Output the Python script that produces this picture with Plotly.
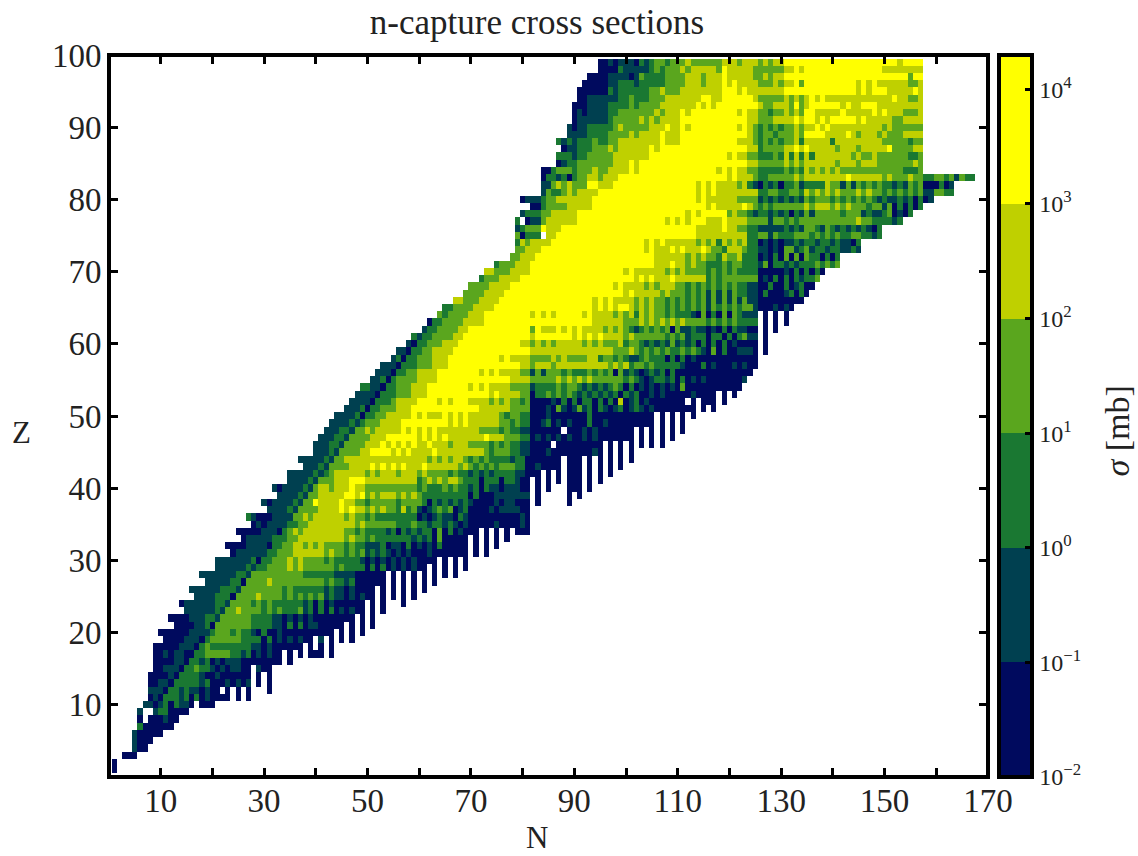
import re
import numpy as np
import plotly.graph_objects as go

TITLE = "n-capture cross sections"
X_TICKS = list(range(10, 171, 10))
X_LABELS = [str(v) if (v - 10) % 20 == 0 else "" for v in X_TICKS]
Y_TICKS = list(range(10, 101, 10))
CB_TICKS = [-2, -1, 0, 1, 2, 3, 4]
CB_LABELS = ["10<sup>−2</sup>", "10<sup>−1</sup>", "10<sup>0</sup>", "10<sup>1</sup>", "10<sup>2</sup>", "10<sup>3</sup>", "10<sup>4</sup>"]
# cross section (mb) standing for each band
BAND_SIGMA = [0.03, 0.3, 3.0, 30.0, 300.0, 4000.0]
BAND_COLORS = ["#000a5e", "#004050", "#1a7832", "#5aa61e", "#bfd000", "#ffff00"]
BAND_EDGES = [-2, -1, 0, 1, 2, 3, 4.3]

# Z -> "startN:bands ..." (band index per neutron number, d{n} = n repeats)
ROWS = {
99: "95:0010 99:1110 103:212 106:332 109:3334 113:333333 119:4443 123:44434344 131:5{22} 153:4 154:5555",
98: "95:00002 100:11111 105:232 108:33343 113:44444 118:35 120:44444 125:333333 131:445 134:4 135:5{15} 150:4{6} 156:44",
97: "93:0000 97:1111 101:01 103:3 104:2222 108:3333 112:4443 116:4445 120:44444 125:3 126:3 127:4 128:3 129:44 131:5{24} 155:355",
96: "92:00000 97:11 99:222 102:1 103:22222 108:3333 112:4443 116:4445 120:45 122:4444 126:333 129:43 131:44 133:53 135:5{10} 145:4545 149:4{6} 155:334",
95: "91:000000 97:21 99:2222 103:22 105:33 107:4 108:333 111:4{8} 119:555 122:4 123:5 124:444 127:4444 131:5{14} 145:4545 149:55 151:44444 156:54",
94: "91:00 93:111111 99:22 101:3 102:222 105:333 108:4{7} 115:55 117:44 119:5{6} 125:4 126:33333 131:4343 135:4545 139:4{13} 152:544 155:334",
93: "90:000 93:1111 97:2222 101:3 102:2 103:3333 107:4{7} 114:5 115:4 116:5 117:4 118:5{8} 126:4 127:33 129:44 131:43 133:53 135:4 136:5{6} 142:45 144:44 146:555 149:4{9}",
92: "90:010 93:1111 97:22 99:3{7} 106:4 107:3 108:444 111:54 113:5{9} 122:45 124:44 126:33 128:2 129:33 131:4343 135:55 137:4{5} 142:5 143:4{5} 148:5 149:4 150:5 151:4{3} 154:333 157:4",
91: "90:0 91:1{6} 97:2 98:33333 103:4 104:3 105:4 106:3 107:4444 111:5{13} 124:44 126:333 129:4{4} 133:54 135:55 137:4 138:5 139:4 140:5{5} 145:4 146:5 147:4{5} 152:33 154:4{4}",
90: "89:10 91:11 93:2{5} 98:3 99:4 100:3{5} 105:444 108:5 109:44 111:54 113:5{9} 122:4 123:5 124:4 125:3 126:2 127:3 128:2 129:3 130:2 131:33 133:4 134:3 135:44 137:5 138:4 139:5 140:4{10} 150:3 151:4 152:3{6}",
89: "89:1111 93:2222 97:3333 101:4 102:3 103:4444 107:5 108:444 111:5{13} 124:4 125:3 126:2 127:3 128:3 129:2 130:3 131:33 133:4 134:3 135:5{4} 139:4 140:4{3} 143:5 144:4 145:3 146:4{3} 149:3 150:4 151:3{3} 154:4{4}",
88: "87:2121 91:222 94:3 95:22 97:33 99:4{8} 107:5 108:4 109:444 111:5{11} 122:444 125:3 126:2 127:3 128:2 129:3 130:2 131:33 133:4 134:2 135:44444 140:2 141:4{9} 150:3{5} 155:2 156:33",
87: "88:0 89:1 90:1 91:222 94:333 97:4 98:3 99:4{6} 105:5 106:4 107:5{17} 124:44 126:2 127:33 129:33 131:44 133:5 134:4 135:5 136:4{5} 141:3 142:4{3} 145:3 146:4{5} 151:5 152:3{4} 156:44",
86: "87:222 90:1 91:22 93:3{5} 98:4{7} 105:5{15} 120:4 121:5 122:44 124:33 126:222 129:3 130:2 131:4 132:2 133:4 134:2 135:4 136:2 137:4{7} 144:3 145:4 146:33 148:4 149:3{6} 155:22 157:3",
85: "87:01 89:22 91:3{7} 98:444 101:5 102:4 103:5{21} 124:44 126:3{5} 131:4 132:3 133:4 134:3 135:4{6} 141:3 142:4{3} 145:3 146:4{3} 149:3{7} 156:4 157:3",
84: "84:00 86:2 87:3{3} 90:2 91:333 94:4 95:33 97:4{4} 101:5 102:4 103:5{15} 118:4 119:5 120:4 121:5 122:44 124:33 126:2{5} 131:3 132:2 133:3 134:2 135:4 136:3 137:4 138:3 139:4 140:3 141:4 142:3{12} 154:222 157:3",
83: "84:0 85:22 87:1 88:2 89:0 90:2 91:33 93:44 95:3 96:444 99:5{21} 120:4 121:5 122:444 125:3 126:22 128:3{5} 133:4 134:3 135:4{8} 143:5 144:4{6} 150:3 151:4 152:3{3} 155:4 156:33 158:22 160:33 162:2 163:3 164:1 165:3 166:22",
82: "84:11 86:3 87:4 88:3 89:4 90:3{3} 93:55 95:4{3} 98:5{16} 114:4 115:5 116:4 117:5 118:4{4} 122:3 123:4 124:2 125:1 126:0 127:2 128:1 129:2 130:0 131:22 133:3 134:1 135:2{4} 139:4 140:33 142:1 143:3 144:1 145:3 146:2 147:3 148:2 149:3 150:22 152:1 153:2 154:1 155:3 156:2 157:3 158:000 161:2 162:0 163:1",
81: "84:13 86:222 88:3 89:4 90:3 91:4{4} 95:5{19} 114:4 115:5 116:4 117:5 118:4{8} 126:22 128:33 130:22 132:33 134:2 135:4 136:3 137:4 138:3 139:4 140:3 141:4 142:333 145:4 146:3 147:4 148:333 150:2 151:3 152:2 153:3 154:2 155:3 156:2 157:3 158:11 160:33 162:22",
80: "80:0 81:111 84:2 85:33 87:4{7} 94:5{20} 114:4 115:5 116:4{6} 122:3{4} 126:1 127:2 128:1 129:2 130:1 131:2 132:1 133:2 134:1 135:3 136:2 137:333 140:2 141:3 142:2 143:3 144:2 145:3 146:2 147:3 148:2 149:1 150:2 151:11 153:2 154:1 155:2 156:0 157:2 158:0 159:1",
79: "82:00 84:2 85:3333 89:4{5} 94:5{22} 116:4 117:5 118:4{5} 123:5 124:4 125:3 126:2 127:3 128:2 129:3{6} 135:4 136:3 137:4{3} 140:3 141:4 142:3 143:4 144:3{3} 147:2 148:3{2} 150:1 151:3 152:0 153:2 154:0 155:2 156:0 157:2",
78: "80:1 81:222 84:33 86:4{5} 91:5{21} 112:4 113:5 114:4 115:5{5} 120:3 121:4 122:33 124:2 125:1 126:22 128:1 129:2 130:1 131:2 132:0 133:2 134:1 135:3 136:1 137:3{5} 142:2 143:3{3} 146:1 147:2 148:11 150:2 151:3 152:0 153:1 154:0 155:2",
77: "79:2 81:0 82:11 84:3 85:4{6} 91:5{17} 108:4 109:5 110:4 111:5 112:4 113:5{3} 116:4{3} 119:5 120:4{4} 124:33 126:33 128:1 129:33 131:2 132:3 133:2 134:3{11} 145:4 146:33 148:22 150:22 152:1 153:2",
76: "79:1 80:2 81:333 84:5 85:444 88:5{26} 114:4{5} 119:5 120:44 122:33 124:22 126:1{5} 131:2 132:1 133:2 134:1 135:33 137:2 138:1 139:3 140:2 141:1 142:2 143:1 144:2 145:1 146:2 147:1 148:0 149:2",
75: "79:3 80:0 81:222 85:44 87:5{27} 114:4{10} 124:22 126:33 128:1 129:3 130:222 133:333 136:2 137:3 138:2 139:3 140:2 141:3 142:22 144:33 146:22 148:1 149:2",
74: "79:2 80:4 81:3 82:4{4} 86:5{18} 104:4 105:5 106:4 107:5 108:4{6} 114:3 115:4 116:3 117:4 118:2 119:4 120:3 121:4 122:3 123:4 124:22 126:0 127:1 128:0 129:1 130:0 131:11 133:2 134:1 135:22 137:1 138:22 140:1 141:2 142:11 144:0 145:2",
73: "79:33 81:444 84:5{20} 104:4 105:5 106:444 109:5 110:4 111:5 112:444 115:5 116:4 117:33 119:2 120:444 123:3 124:22 126:11 128:0 129:1 130:0 131:33 133:1 134:2 135:3 136:1 137:22 139:1 140:22 142:11 144:2 145:1",
72: "78:33 80:444 83:5{23} 106:4{6} 112:3 113:4 114:3 115:4 116:33 118:2 119:4 120:33 122:4 123:222 126:0 127:1 128:0 129:2 130:0 131:3 132:0 133:3 134:0 135:3 136:22 138:0 139:2 140:0 141:2",
71: "75:2 76:333 79:444 82:5{24} 106:444 109:5 110:44 112:3 113:4 114:33 116:22 118:2 119:3 120:2 121:33 123:222 126:1 127:3 128:0 129:22 131:1 132:2 133:1 134:222 137:3 138:2 139:3 140:2 141:3",
70: "73:44 75:333 78:4444 82:5{18} 100:4 101:5 102:4{6} 108:3 109:4 110:3 111:4 112:33 114:33 116:2 117:3 118:2 119:3 120:2 121:3 122:2222 126:0{5} 131:1 132:0 133:2 134:0 135:2 136:0 137:2 138:0",
69: "72:2 73:333 76:4444 80:5{22} 102:4 103:5 104:4 105:5 106:444 109:5 110:4{6} 116:2 117:3 118:2 119:3 120:33 122:3333 126:0 127:1 128:0 129:2 130:0 131:2 132:0 133:2 134:1 135:22 137:3",
68: "70:3333 74:4444 78:5{20} 98:4 99:5 100:4{4} 104:3 105:4 106:3 107:444 110:33 112:2 113:3 114:2 115:3 116:2 117:3 118:2 119:3 120:2 121:3 122:22 124:11 126:00 128:2 129:00 131:2 132:0 133:1 134:2 135:00",
67: "69:3333 73:4444 77:5{23} 100:4 101:5 102:4{5} 107:3 108:4 109:3 110:33 112:2 113:3 114:2 115:3 116:1 117:3 118:1 119:3 120:1 121:3 122:22 124:11 126:0 127:2 128:000 131:1 132:2 133:0 134:2 135:0",
66: "67:44 69:333 72:4444 76:5{18} 94:4 95:5 96:4 97:5 98:4{4} 102:3 103:4 104:3 105:4 106:33 108:2 109:3 110:2 111:3 112:2 113:3 114:2 115:3 116:1 117:3 118:1 119:3 120:1 121:3 122:1 123:3 124:11 126:0{9}",
65: "65:22 67:3333 71:4444 75:5{19} 94:4 95:5 96:4 97:5 98:4 99:55 101:4 102:3 103:4 104:3 105:4 106:33 108:2 109:3 110:2 111:3 112:2 113:3 114:2 115:3 116:1 117:3 118:2 119:3 120:2 121:3 122:2 123:33 125:1 126:000 129:1 130:0 131:1 132:0",
64: "64:3 65:2 66:3333 70:444 73:5{9} 82:4 83:5 84:4 85:5 86:4 87:5{5} 92:4 93:5 94:4444 98:3 99:4 100:3 101:4 102:2 103:4 104:3 105:4 106:33 108:2 109:3 110:222 113:1 114:0 115:3 116:0 117:2 118:0 119:3 120:0 121:3 122:2 123:111 127:0 129:0 131:0",
63: "62:0 63:22 65:3333 69:4444 73:5{21} 94:4444 98:44 100:333 103:4 104:3 105:4 106:3 107:4 108:3 109:4 110:3 111:4 112:3333 116:2 117:3 118:2 119:3 120:2 121:3 122:2222 127:0 129:0 131:0",
62: "61:1 62:22 64:3333 68:44 70:5{12} 82:3 83:5 84:444 87:5 88:4 89:5 90:4 91:5 92:4444 96:3 97:4 98:3 99:4 100:3 101:2 102:1 103:2 104:3 105:2 106:3 107:2 108:3 109:0 110:3 111:11 113:2 114:11 116:0 117:1 118:0 119:2 120:0 121:2 122:11 124:00 127:0 129:0",
61: "59:2 60:1 61:22 63:3333 67:44 69:5{13} 82:4 83:5{7} 90:4 91:5 92:4 93:5 94:4 95:5 96:4{4} 100:3 101:4 102:3{6} 108:2 109:3 110:2 111:3 112:1 113:222 116:0 117:22 119:0 120:2 121:0 122:2 123:3 124:11 127:0",
60: "58:10 60:22 62:333 65:444 68:5{12} 80:44 82:3 83:4 84:3 85:4 86:3 87:4{5} 92:3 93:4 94:3 95:4 96:333 99:4 100:2 101:33 103:2 104:1 105:2 106:1 107:2 108:1 109:3 110:1 111:2 112:1 113:2 114:0 115:2 116:0 117:2 118:0 119:2 120:0 121:1 122:0000 127:0",
59: "56:110 59:22 61:33 63:4444 67:5{15} 82:4{16} 98:333 101:4 102:3 103:2 104:3 105:2 106:3 107:2 108:3 109:22 111:3 112:2 113:3 114:2 115:1 116:0 117:3 118:0 119:2 120:00 122:111 125:0 127:0",
58: "55:1 56:2 57:0 58:22 60:333 63:444 66:5{10} 76:4 77:5 78:4444 82:3333 86:4 87:3 88:4 89:3 90:333 93:44 95:2 96:33 98:2 99:3 100:2 101:11 103:2 104:3 105:222 108:0 109:2 110:0 111:2 112:0 113:1 114:0{12}",
57: "53:111 56:0 57:222 60:333 63:444 66:5{14} 80:44 82:3 83:444 86:3 87:4{10} 97:3 98:4 99:3 100:4 101:2 102:33 104:2 105:3 106:2{5} 111:1 112:000 115:2 116:0 117:1 118:000 121:1 122:0 123:1 124:00",
56: "52:111 55:0 56:22 58:33 60:4444 64:5{8} 72:4 73:5 74:4 75:5 76:4{4} 80:33 82:1 83:3 84:1 85:333 88:2 89:3 90:222 93:3 94:2 95:3 96:2 97:3 98:0 99:3 100:1 101:2 102:1 103:0 104:1 105:2 106:1 107:2 108:0 109:2 110:0{15}",
55: "51:11 53:2 54:0 55:2 56:3{4} 60:4{4} 64:5{14} 78:4444 82:3{5} 87:4 88:3 89:4 90:3 91:4 92:3 93:4 94:3{6} 100:2 101:3 102:2 103:1 104:0 105:1 106:22 108:1 109:2 110:0 111:2 112:0 113:1 114:0 115:1 116:0{7} 123:1",
54: "49:22 51:11 53:0 54:22 56:333 59:444 62:5{8} 70:4 71:5 72:4 73:5 74:4{4} 78:3333 82:1 83:2{4} 87:3 88:2 89:33 91:2 92:1 93:2 94:1 95:2 96:1 97:2 98:3 99:2 100:0 101:2 102:0 103:1 104:0 105:1 106:0 107:1 108:0 109:1 110:0 111:3 112:0{11}",
53: "48:1111 52:0 53:222 56:333 59:444 62:5{12} 74:4 75:5 76:4{4} 80:33 82:0 83:22 85:3 86:2 87:3 88:2 89:3 90:2 91:1 92:2 93:1 94:2 95:1 96:2 97:1 98:2 99:0 100:2 101:1 102:2 103:00 105:1 106:0 107:1 108:0{5} 113:1 114:0{4} 119:0 121:0",
52: "47:1111 51:0 52:222 55:3 56:4444 60:5555 64:4 65:5 66:4 67:5 68:55 70:4{4} 74:3 75:4 76:3 77:4 78:33 80:2 81:3 82:0{4} 86:1 87:0 88:2 89:0 90:2 91:0 92:22 94:0 95:2 96:0 97:2 98:0 99:4 100:0 101:1 102:2 103:0 104:1 105:0{7} 113:0 115:000 119:0",
51: "46:111 49:2 50:0 51:22 53:333 56:444 59:5{13} 72:4{6} 78:3333 82:000 85:1 86:0 87:3 88:1 89:0 90:1 91:3 92:1 93:2 94:0 95:2 96:1 97:0 98:1 99:2 100:0 101:1 102:2 103:1 104:0 105:1 106:0{8} 115:0 117:0",
50: "44:1111 48:2 49:0 50:22 52:33 54:4{5} 59:5 60:4 61:5 62:444 65:5 66:4 67:5 68:4 69:5 70:4{6} 76:3 77:2 78:33 80:22 82:000 85:1 86:0{7} 93:2 94:0{12} 107:0 109:0 111:0 113:0",
49: "43:1111 47:2 48:1 49:2 50:333 53:4444 57:5{8} 65:5 66:4 67:5 68:4 69:5 70:4{6} 76:33 78:2 79:3 80:22 82:00 84:1 85:2 86:0 87:1 88:0 89:1 90:000 93:2 94:00 96:1 97:0{9} 107:0 109:0 111:0",
48: "42:111 45:22 47:1 48:33 50:4 51:3 52:4{5} 57:5 58:4 59:5 60:4 61:5 62:4 63:5 64:4{8} 72:3{4} 76:2 77:3 78:22 80:11 82:0{6} 89:000 92:1 93:0 94:1 95:0 96:0{6} 103:0 105:0 107:0 109:0 111:0",
47: "41:111 44:22 46:1 47:3333 51:444 54:5{6} 60:4 61:5 62:4 63:5 64:4 65:5 66:4{7} 73:5 74:444 77:333 80:22 82:0 83:1 84:0 85:1 86:0 87:1 88:0 89:1 90:00 92:1 93:0 94:1 95:0{7} 103:0 105:0 107:0 109:0",
46: "40:111 43:22 45:1 46:3333 50:444 53:5 54:4 55:5 56:4 57:5 58:4 59:5 60:44 62:5 63:444 66:3 67:444 70:3333 74:2 75:3 76:2 77:3 78:22 80:11 82:0000 87:0{9} 97:0 99:0 101:0 103:0 105:0 107:0",
45: "40:111 43:2 44:1 45:3333 49:44 51:5555 55:4 56:5 57:4 58:5 59:4444 63:5 64:4{9} 73:3 74:2 75:333 78:22 80:11 82:000 85:1 86:0{8} 94:1 95:0 97:0 99:0 101:0",
44: "37:1{5} 42:2 43:1 44:33 46:4{16} 62:3 63:4 64:3 65:4 66:3 67:44 69:3 70:2 71:3 72:2 73:3 74:2{4} 78:1 79:22 81:0{7} 89:000 93:0 95:0 97:0 99:0 101:0",
43: "38:111 41:2 42:1 43:3333 47:4444 51:5 52:4 53:5 54:4 55:5 56:4 57:5 58:444 61:5 62:4{6} 68:3 69:4 70:3 71:2 72:3 73:2 74:3 75:2 76:333 79:22 81:00 83:1 84:0 85:00 87:0 89:000 93:0 95:0 97:0 99:0",
42: "35:1{5} 40:2 41:1 42:2 43:3 44:4{6} 50:3 51:4 52:3 53:4{3} 56:3 57:4{3} 60:3 61:4 62:3{4} 66:2 67:3 68:22 70:1 71:2 72:1 73:2 74:1 75:2{4} 79:11 81:0{3} 85:0 87:0 89:000 93:0 95:0 97:0",
41: "35:1{4} 39:2 40:1 41:333 44:444 47:555 50:4{10} 60:2 61:3 62:4 63:3 64:4 65:3 66:44 68:3 69:222 72:0 73:222 76:0 77:22 79:1 80:00 83:0 85:0 87:0 89:000 93:0 95:0",
40: "32:1 33:0 34:1111 38:2 39:1 40:3 41:44 43:3 44:444 47:5 48:44 50:3{10} 60:2 61:3 62:222 65:3 66:2 67:3 68:222 70:1 71:2 72:0 73:2 74:11 76:0 77:111 80:00 83:0 85:0 89:000 93:0",
39: "33:1111 37:2 38:1 39:33 41:4{5} 46:55 48:4 49:5 50:3 51:4 52:3 53:444 56:3 57:4 58:3 59:4 60:3 61:2{9} 70:0 71:2 72:000 75:1{7} 83:0 89:0 91:0",
38: "30:1 31:0 32:1111 36:2 37:1 38:33 40:5 41:4444 45:5 46:44 48:33 50:2 51:3{5} 56:2 57:3{4} 61:2 62:0 63:2 64:1 65:2 66:1 67:2 68:1 69:2 70:1 71:0{4} 75:1 76:0 77:11 79:000 83:0 89:0",
37: "31:1111 35:2 36:1 37:3333 41:4444 45:5 46:4 47:5 48:44 50:3 51:4 52:3 53:4 54:33 56:2 57:4 58:2 59:3 60:1 61:0 62:1 63:2 64:3 65:2 66:3 67:0 68:1 69:2 70:0{4} 74:1 75:0 76:1{4} 80:00",
36: "27:2 28:1 29:000 32:1111 36:33 38:4 39:3 40:4{6} 46:3 47:4 48:33 50:2 51:3 52:2{8} 60:0 61:1 62:0 63:1 64:2 65:11 67:0 68:2 69:11 70:0{10} 80:1 81:0",
35: "28:0 29:1 30:0 31:1111 35:22 37:33 39:4{9} 48:3 49:4 50:3{6} 56:222 59:3 60:22 62:1 63:22 65:1 66:2 67:1 68:0 69:1 70:0{5} 75:1 76:0{4} 80:1 81:0",
34: "25:0{5} 30:111 33:0 34:2 35:3 36:4 37:3 38:4{8} 46:33 48:2 49:3 50:2{4} 54:1 55:2 56:0 57:2 58:1 59:2 60:1 61:22 63:0 64:3 65:0 66:2 67:0 68:1 69:000 73:0 75:0 77:0 79:000",
33: "26:0 27:1{5} 32:222 35:33 37:4{9} 46:3 47:4 48:33 50:2 51:3 52:2{7} 59:1 60:2 61:1 62:2 63:0 64:3 65:0{5} 71:0 73:0 75:0 77:0",
32: "23:0{4} 27:1111 31:0 32:22 34:33 36:44 38:3 39:4 40:3 41:4 42:3{4} 46:2 47:3 48:22 50:111 53:2 54:0 55:11 57:0 58:2 59:0 60:1 61:0 62:1 63:0 64:2 65:0{5} 71:0 73:0 75:0",
31: "24:0 25:1{6} 31:22 33:333 36:4{6} 42:3 43:4 44:33 46:2 47:3 48:2 49:3 50:1 51:2 52:1 53:2 54:1 55:0 56:1 57:0 58:1 59:000 62:1 63:0{7} 71:0 73:0",
30: "21:1{7} 28:2 29:0 30:22 32:333 35:4 36:3 37:4 38:3{4} 42:2 43:3 44:2{5} 49:1 50:0 51:1 52:0 53:1 54:0 55:1 56:0 57:1 58:0 59:1 60:0{4} 65:0 67:0 69:0",
29: "21:1{6} 27:2 28:1 29:22 31:3333 35:4 36:3 37:4 38:3{6} 44:2 45:3 46:2222 50:0 51:2 52:0 53:2 54:0 55:1 56:0 57:1 58:0 59:1 60:00 63:0 65:0 67:0 69:0",
28: "18:1{7} 25:22 27:1 28:3{10} 38:2{6} 44:1111 48:0{6} 55:0 57:0 59:0 61:0 63:0 65:0 67:0",
27: "19:1{5} 24:22 26:0 27:3{4} 31:4 32:3{10} 42:2 43:3 44:22 46:1 47:2 48:0{6} 55:0 57:0 59:0 61:0 63:0",
26: "16:1{6} 22:222 25:1 26:3{8} 34:2 35:3 36:2{6} 42:1 43:2 44:11 46:0 47:1 48:0000 53:0 55:0 57:0 59:0 61:0",
25: "17:1111 21:222 24:0 25:3{4} 29:4 30:3{4} 34:2 35:3 36:2 37:3 38:2 39:3 40:2 41:3 42:1 43:2 44:11 46:0 47:1 48:0 49:1 50:00 53:0 55:0 57:0 59:0",
24: "14:0 15:1{6} 21:22 23:1 24:3{4} 28:2 29:3 30:2 31:3 32:2{6} 38:1 39:2 40:0 41:2 42:0 43:1 44:0{6} 51:0 53:0 57:0",
23: "15:1{6} 21:2 22:1 23:33 25:4 26:3{4} 30:2 31:3 32:2 33:3 34:2{3} 37:3 38:1 39:2 40:0 41:2 42:0 43:2 44:0 45:1 46:0 47:1 48:00 51:0 53:0",
22: "12:0000 16:111 19:22 21:1 22:3{6} 28:2222 32:11 34:0 35:1 36:0 37:1 38:0 39:1 40:0{8} 49:0 51:0",
21: "13:0000 17:11 19:2 20:0 21:3{7} 28:2222 32:11 34:0 35:2 36:0 37:2 38:0 39:11 41:0{5} 47:0 49:0 51:0",
20: "10:0{6} 16:1111 20:2 21:333 24:2 25:3 26:22 28:1 29:0 30:2 31:00 33:1 34:0{10} 45:0 47:0 49:0",
19: "11:0{4} 15:111 18:0 19:2 20:3{6} 26:2222 30:0 31:2 32:0 33:1 34:0 35:1 36:0 37:1 38:00 41:1 43:0 45:0 47:0",
18: "9:0{5} 14:111 17:0 18:2 19:3 20:2{8} 28:11 30:0 31:1 32:0{6} 39:0 41:0 43:0",
17: "9:00 11:1 12:0 13:11 15:00 17:22 19:3{5} 24:22 26:1 27:2 28:0 29:1 30:0 31:1 32:00 35:0 37:0 39:000 43:0",
16: "9:0{4} 13:11 15:0 16:22 18:1 19:2 20:0 21:1 22:0 23:1 24:11 26:0{7} 33:0 35:0",
15: "9:00 11:111 14:0 15:22 17:3 18:22 20:1 21:0 22:1 23:0 24:11 26:00 27:0 29:1 30:00",
14: "8:0{4} 12:1 13:0 14:2222 18:1 19:000 21:1 22:0{6} 29:0 31:0",
13: "8:00 10:11 12:0 13:2{5} 18:1 19:2 20:000 23:1 24:0 25:1 26:0 27:1 29:0 31:0",
12: "8:111 11:0 12:22 14:1 15:2 16:11 18:0 19:1 20:00 23:0 25:0 27:0 31:0",
11: "8:0 9:1 10:0 11:222 14:1 15:2 16:0 17:2 18:0 19:1 20:0{4} 25:0 27:0",
10: "7:11 9:0 10:1 11:2 12:0 13:2 14:11 16:0 18:000",
9: "6:1 9:1 10:22 12:0000",
8: "6:0 8:000 11:1 12:00",
7: "6:2 7:0{6}",
6: "5:1 6:0{5}",
5: "5:1 6:000",
4: "5:1 6:00",
3: "3:000",
2: "1:0",
1: "1:0",
}

N_VALUES = np.arange(0, 171)
Z_VALUES = np.arange(0, 101)
log_sigma = np.full((len(Z_VALUES), len(N_VALUES)), np.nan)
for z_val, spec in ROWS.items():
    for token in spec.split():
        start, body = token.split(":")
        body = re.sub(r"(\d)\{(\d+)\}", lambda m: m.group(1) * int(m.group(2)), body)
        for i, ch in enumerate(body):
            log_sigma[z_val, int(start) + i] = np.log10(BAND_SIGMA[int(ch)])

span = BAND_EDGES[-1] - BAND_EDGES[0]
colorscale = []
for i, col in enumerate(BAND_COLORS):
    colorscale.append([(BAND_EDGES[i] - BAND_EDGES[0]) / span, col])
    colorscale.append([(BAND_EDGES[i + 1] - BAND_EDGES[0]) / span, col])

SERIF = "Liberation Serif"
INK = "#222"
fig = go.Figure(go.Heatmap(
    x=N_VALUES, y=Z_VALUES, z=log_sigma, colorscale=colorscale,
    zmin=BAND_EDGES[0], zmax=BAND_EDGES[-1], hoverongaps=False,
    colorbar=dict(
        x=1.0125, xanchor="left", xpad=0, y=0.5, yanchor="middle", ypad=0,
        len=1, lenmode="fraction", thickness=33, thicknessmode="pixels",
        outlinecolor="black", outlinewidth=4,
        tickmode="array", tickvals=CB_TICKS, ticktext=CB_LABELS,
        ticks="inside", ticklen=9, tickwidth=3, tickcolor="black",
        tickfont=dict(family=SERIF, size=24, color=INK),
    ),
))
axis_common = dict(
    showgrid=False, zeroline=False, showline=True, linecolor="black", linewidth=1,
    mirror="ticks", ticks="inside", ticklen=9, tickwidth=3, tickcolor="black",
    tickfont=dict(family=SERIF, size=33, color=INK), tickmode="array", automargin=False,
)
fig.update_xaxes(range=[0, 170], tickvals=X_TICKS, ticktext=X_LABELS, ticklabelstandoff=-6, **axis_common)
fig.update_yaxes(range=[0, 100], tickvals=Y_TICKS, **axis_common)
fig.update_layout(
    width=1138, height=856, margin=dict(l=109.3, r=149.7, t=55, b=78.8),
    paper_bgcolor="white", plot_bgcolor="white",
    title=dict(text=TITLE, x=537 / 1138, xanchor="center", y=1 - 22 / 856, yanchor="middle",
               font=dict(family=SERIF, size=35, color=INK)),
    shapes=[dict(type="rect", xref="paper", yref="paper", x0=0, y0=0, x1=1, y1=1,
                 line=dict(color="black", width=4), layer="above")],
    annotations=[
        dict(text="Z", xref="paper", yref="paper", x=(22 - 109.3) / 879, y=(777.2 - 433) / 722.2,
             xanchor="center", yanchor="middle", showarrow=False, font=dict(family=SERIF, size=31, color=INK)),
        dict(text="N", xref="paper", yref="paper", x=(537 - 109.3) / 879, y=(777.2 - 838) / 722.2,
             xanchor="center", yanchor="middle", showarrow=False, font=dict(family=SERIF, size=31, color=INK)),
        dict(text="<i>σ</i> [mb]", xref="paper", yref="paper", x=(1118 - 109.3) / 879, y=(777.2 - 431) / 722.2,
             xanchor="center", yanchor="middle", textangle=-90, showarrow=False,
             font=dict(family=SERIF, size=34, color=INK)),
    ],
)
fig.write_html("out.html", config=dict(displayModeBar=False),
               post_script="document.body.style.margin='0';document.body.style.overflow='hidden';")
